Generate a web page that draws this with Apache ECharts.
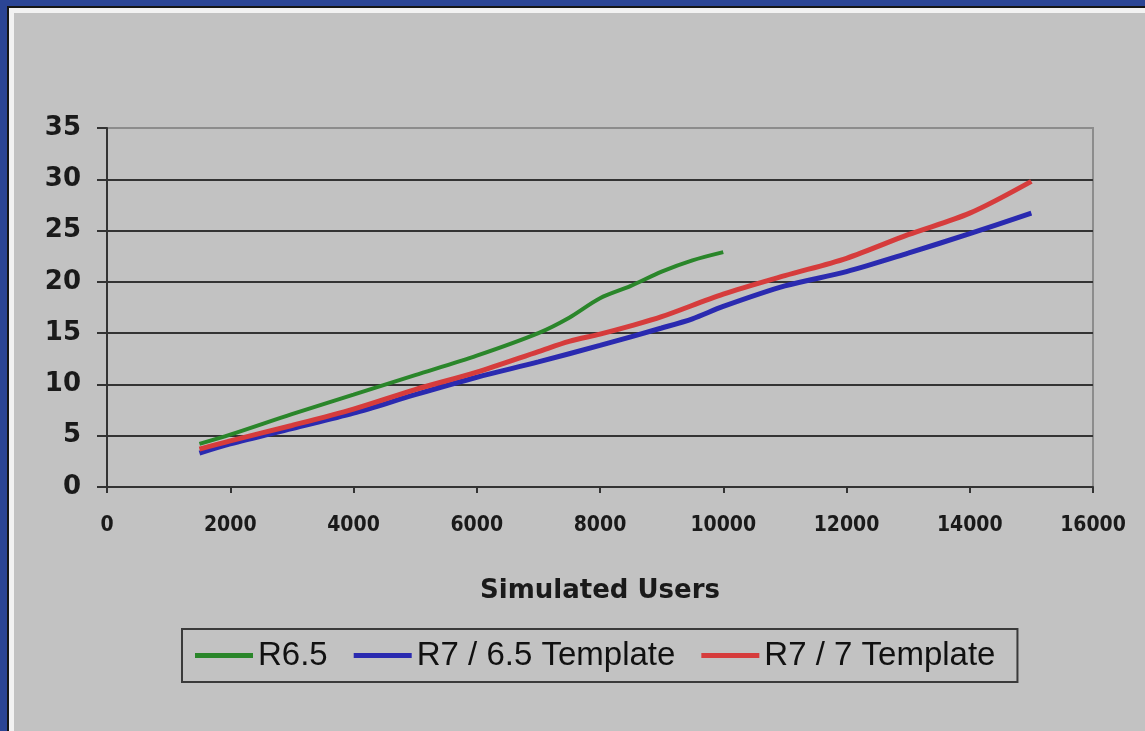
<!DOCTYPE html>
<html>
<head>
<meta charset="utf-8">
<script src="https://cdn.jsdelivr.net/npm/echarts@6/dist/echarts.min.js"></script>
<style>
html,body{margin:0;padding:0;width:1145px;height:731px;overflow:hidden;background:#2b4595;}
#l1{position:absolute;left:7px;top:6px;right:0;bottom:0;background:#151515;}
#l2{position:absolute;left:9px;top:8px;right:0;bottom:0;background:#f2f2f2;}
#l3{position:absolute;left:14px;top:13px;right:0;bottom:0;background:#c2c2c2;}
#chart{position:absolute;left:0;top:0;width:1145px;height:731px;}
</style>
</head>
<body>
<div id="l1"></div><div id="l2"></div><div id="l3"></div>
<div id="chart"></div>
<script>
// Data
var seriesNames = ['R6.5', 'R7 / 6.5 Template', 'R7 / 7 Template'];
var r65Users = [1500, 2000, 3000, 4000, 5000, 6000, 7000, 7500, 8000, 8500, 9000, 9500, 10000];
var r65Values = [4.2, 5.1, 7.1, 9.0, 10.9, 12.8, 15.0, 16.5, 18.4, 19.6, 21.0, 22.1, 22.9];
var r7t65Users = [1500, 2000, 3000, 4000, 5000, 6000, 7000, 8000, 9000, 9500, 10000, 11000, 12000, 13000, 14000, 15000];
var r7t65Values = [3.3, 4.2, 5.7, 7.2, 9.0, 10.7, 12.2, 13.8, 15.5, 16.4, 17.6, 19.6, 21.0, 22.8, 24.7, 26.7];
var r7t7Users = [1500, 2000, 3000, 4000, 5000, 6000, 7000, 7500, 8000, 8500, 9000, 10000, 11000, 12000, 13000, 14000, 15000];
var r7t7Values = [3.7, 4.5, 6.0, 7.6, 9.5, 11.2, 13.2, 14.2, 14.9, 15.7, 16.6, 18.8, 20.6, 22.3, 24.6, 26.7, 29.8];
var xAxisTitle = 'Simulated Users';

function pairs(xs, ys) { return xs.map(function (x, i) { return [x, ys[i]]; }); }
var colors = ['#2a862a', '#2a2ab0', '#d63c3c'];

var chart = echarts.init(document.getElementById('chart'), null, {renderer: 'canvas'});
chart.setOption({
  backgroundColor: 'transparent',
  animation: false,
  grid: {left: 107, right: 52, top: 128, bottom: 244, show: true, borderColor: '#8c8c8c', borderWidth: 2, backgroundColor: 'transparent'},
  xAxis: {
    type: 'value', min: 0, max: 16000, interval: 2000,
    name: xAxisTitle, nameLocation: 'middle', nameGap: 91,
    nameTextStyle: {fontFamily: 'DejaVu Sans', fontWeight: 'bold', fontSize: 26, color: '#1a1a1a'},
    axisLine: {show: true, lineStyle: {color: '#333', width: 2}},
    axisTick: {show: true, length: 6, lineStyle: {color: '#333', width: 2}},
    axisLabel: {margin: 28, fontFamily: "'DejaVu Sans Condensed', 'DejaVu Sans', sans-serif", fontWeight: 'bold', fontSize: 21, color: '#1a1a1a',
      formatter: function (v) { return String(v); }},
    splitLine: {show: false}
  },
  yAxis: {
    type: 'value', min: 0, max: 35, interval: 5,
    axisLine: {show: true, lineStyle: {color: '#333', width: 2}},
    axisTick: {show: true, length: 10, lineStyle: {color: '#333', width: 2}},
    axisLabel: {margin: 26, fontFamily: 'DejaVu Sans', fontWeight: 'bold', fontSize: 26, color: '#1a1a1a'},
    splitLine: {show: true, showMaxLine: false, lineStyle: {color: '#333', width: 2}}
  },
  legend: {
    left: 182, top: 629,
    padding: [10, 22, 10, 13],
    borderColor: '#3a3a3a', borderWidth: 2,
    backgroundColor: 'transparent',
    itemWidth: 58, itemHeight: 5, itemGap: 26,
    icon: 'rect',
    textStyle: {fontFamily: "'Liberation Sans', Arial, sans-serif", fontSize: 33, color: '#111'},
    data: seriesNames
  },
  series: [
    {name: seriesNames[0], type: 'line', data: pairs(r65Users, r65Values), showSymbol: false, smooth: 0.3,
     lineStyle: {color: colors[0], width: 4}, itemStyle: {color: colors[0]}},
    {name: seriesNames[1], type: 'line', data: pairs(r7t65Users, r7t65Values), showSymbol: false, smooth: 0.3,
     lineStyle: {color: colors[1], width: 5}, itemStyle: {color: colors[1]}},
    {name: seriesNames[2], type: 'line', data: pairs(r7t7Users, r7t7Values), showSymbol: false, smooth: 0.3,
     lineStyle: {color: colors[2], width: 5}, itemStyle: {color: colors[2]}}
  ]
});
</script>
</body>
</html>
